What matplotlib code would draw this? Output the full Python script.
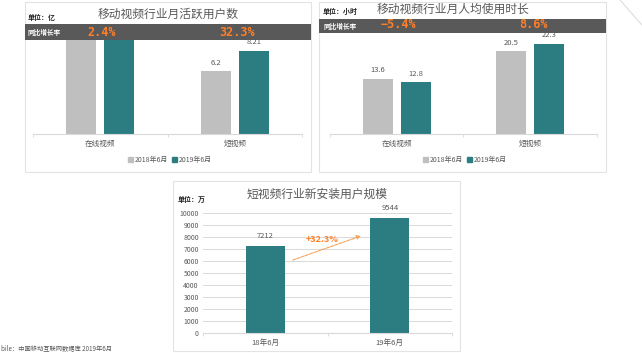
import matplotlib
matplotlib.use("Agg")
import matplotlib.pyplot as plt
from matplotlib.patches import Rectangle, Patch
from matplotlib.lines import Line2D

plt.rcParams['font.family'] = ['Noto Sans CJK SC', 'DejaVu Sans']

## data
categories = ["在线视频", "短视频"]
series_names = ["2018年6月", "2019年6月"]

mau_2018 = [9.40, 6.20]
mau_2019 = [9.62, 8.21]
mau_growth = ["2.4%", "32.3%"]

time_2018 = [13.6, 20.5]
time_2019 = [12.8, 22.3]
time_growth = ["\u22125.4%", "8.6%"]

install_labels = ["18年6月", "19年6月"]
install_values = [7212, 9544]
install_growth = "+32.3%"

## colors
GRAY = "#bfbfbf"
TEAL = "#2b7d82"
BAND = "#595959"
ORANGE = "#ff7f27"
TXT = "#595959"
EDGE = "#e3e3e3"

W, H = 642, 353
fig = plt.figure(figsize=(W / 100, H / 100), dpi=100)


def fx(x):
    return x / W


def fy(y):
    return 1 - y / H


def add_ax(x0, y0, x1, y1):
    return fig.add_axes([fx(x0), fy(y1), (x1 - x0) / W, (y1 - y0) / H])


def frame(x0, y0, x1, y1):
    fig.patches.append(Rectangle((fx(x0), fy(y1)), (x1 - x0) / W, (y1 - y0) / H,
                                 transform=fig.transFigure, fill=False,
                                 edgecolor=EDGE, linewidth=0.8, zorder=0))


def band(x0, y0, x1, y1):
    fig.patches.append(Rectangle((fx(x0), fy(y1)), (x1 - x0) / W, (y1 - y0) / H,
                                 transform=fig.transFigure, facecolor=BAND,
                                 edgecolor="none", zorder=2))


def grouped_bars(ax, v1, v2, ymax, visible, fmt):
    # visible : highest value not hidden under the dark band
    xs = range(len(categories))
    w, off = 0.224, 0.142
    b1 = ax.bar([x - off for x in xs], v1, width=w, color=GRAY)
    b2 = ax.bar([x + off for x in xs], v2, width=w, color=TEAL)
    for bars, vals in ((b1, v1), (b2, v2)):
        for b, v in zip(bars, vals):
            ty = v + ymax * 0.04
            if ty > visible:
                continue
            ax.text(b.get_x() + b.get_width() / 2, ty, fmt.format(v),
                    ha="center", va="bottom", fontsize=5.5, color=TXT)
    ax.set_xlim(-0.5, 1.5)
    ax.set_ylim(0, ymax)
    ax.set_yticks([])
    ax.set_xticks(list(xs))
    ax.set_xticklabels(categories, fontsize=5.5, color=TXT)
    ax.set_xticks([-0.5, 0.5, 1.5], minor=True)
    ax.tick_params(axis="x", which="major", length=0, pad=4)
    ax.tick_params(axis="x", which="minor", length=2.5, color="#d9d9d9")
    for s in ["left", "right", "top"]:
        ax.spines[s].set_visible(False)
    ax.spines["bottom"].set_color("#d9d9d9")
    ax.patch.set_alpha(0)


def legend_at(cx, cy):
    handles = [Patch(color=GRAY), Patch(color=TEAL)]
    fig.legend(handles, series_names, loc="center", bbox_to_anchor=(fx(cx), fy(cy)),
               ncol=2, frameon=False, fontsize=5, handlelength=0.7, handleheight=0.7,
               handletextpad=0.3, columnspacing=0.6, labelcolor=TXT)


## panel 1 : monthly active users
frame(25, 2, 311, 172)
ax1 = add_ax(33, 24, 302, 134)
grouped_bars(ax1, mau_2018, mau_2019, 110 / 10.16, 94 / 10.16, "{:g}")
band(25, 24, 311, 40)
fig.text(fx(168), fy(14), "移动视频行业月活跃用户数", ha="center", va="center",
         fontsize=8.5, color=TXT)
fig.text(fx(28), fy(17), "单位：亿", ha="left", va="center", fontsize=5,
         fontweight="bold", color="#222222")
fig.text(fx(28), fy(32), "同比增长率", ha="left", va="center", fontsize=4.8,
         fontweight="bold", color="white", zorder=3)
for cx, g in zip([102, 237], mau_growth):
    fig.text(fx(cx), fy(32), g, ha="center", va="center", fontsize=8.5,
             fontweight="bold", color=ORANGE, family="DejaVu Sans Mono", zorder=3)
legend_at(170, 160)

## panel 2 : monthly usage time per user
frame(319, 2, 606, 172)
ax2 = add_ax(330, 19, 597, 134)
grouped_bars(ax2, time_2018, time_2019, 115 / 4.04, 101 / 4.04, "{:g}")
band(319, 19, 606, 33)
fig.text(fx(453), fy(9), "移动视频行业月人均使用时长", ha="center", va="center",
         fontsize=8.5, color=TXT)
fig.text(fx(323), fy(11), "单位：小时", ha="left", va="center", fontsize=5,
         fontweight="bold", color="#222222")
fig.text(fx(323), fy(26), "同比增长率", ha="left", va="center", fontsize=4.8,
         fontweight="bold", color="white", zorder=3)
for cx, g in zip([398, 533], time_growth):
    fig.text(fx(cx), fy(25), g, ha="center", va="center", fontsize=8.5,
             fontweight="bold", color=ORANGE, family="DejaVu Sans Mono", zorder=3)
legend_at(465, 160)

## panel 3 : new installs of short video apps
frame(173, 181, 460, 351)
ax3 = add_ax(203, 213, 452, 333)
bars = ax3.bar(range(len(install_values)), install_values, width=0.31, color=TEAL)
for b, v in zip(bars, install_values):
    ax3.text(b.get_x() + b.get_width() / 2, v + 500, str(v), ha="center",
             va="bottom", fontsize=5.5, color=TXT)
ax3.set_xlim(-0.5, 1.5)
ax3.set_ylim(0, 10000)
ax3.set_yticks(range(0, 10001, 1000))
ax3.tick_params(axis="y", length=0, labelsize=5, labelcolor=TXT, pad=3)
ax3.yaxis.grid(True, color="#d9d9d9", linewidth=0.7)
ax3.set_axisbelow(True)
ax3.set_xticks(range(len(install_labels)))
ax3.set_xticklabels(install_labels, fontsize=5.5, color=TXT)
ax3.set_xticks([-0.5, 0.5, 1.5], minor=True)
ax3.tick_params(axis="x", which="major", length=0, pad=4)
ax3.tick_params(axis="x", which="minor", length=2.5, color="#d9d9d9")
for s in ["left", "right", "top"]:
    ax3.spines[s].set_visible(False)
ax3.spines["bottom"].set_color("#d9d9d9")
ax3.annotate("", xy=(0.79, 8170), xytext=(0.2, 6000),
             arrowprops=dict(arrowstyle="-|>", color="#f7a35c", linewidth=0.8,
                             linestyle=(0, (3, 1)), mutation_scale=6))
ax3.text(0.46, 7830, install_growth, ha="center", va="center", fontsize=6.5,
         fontweight="bold", color=ORANGE)
fig.text(fx(317), fy(194), "短视频行业新安装用户规模", ha="center", va="center",
         fontsize=8.5, color=TXT)
fig.text(fx(178), fy(199), "单位：万", ha="left", va="center", fontsize=5,
         fontweight="bold", color="#222222")

## leftovers of the page around the charts
fig.text(fx(1), fy(352.5), "bile：中国移动互联网数据库 2019年6月", ha="left", va="bottom",
         fontsize=4.5, color="#555555")
fig.lines.append(Line2D([fx(620), fx(642)], [fy(0), fy(25)], transform=fig.transFigure,
                        color="#dddddd", linewidth=0.8))

fig.savefig("out.png", dpi=100)
